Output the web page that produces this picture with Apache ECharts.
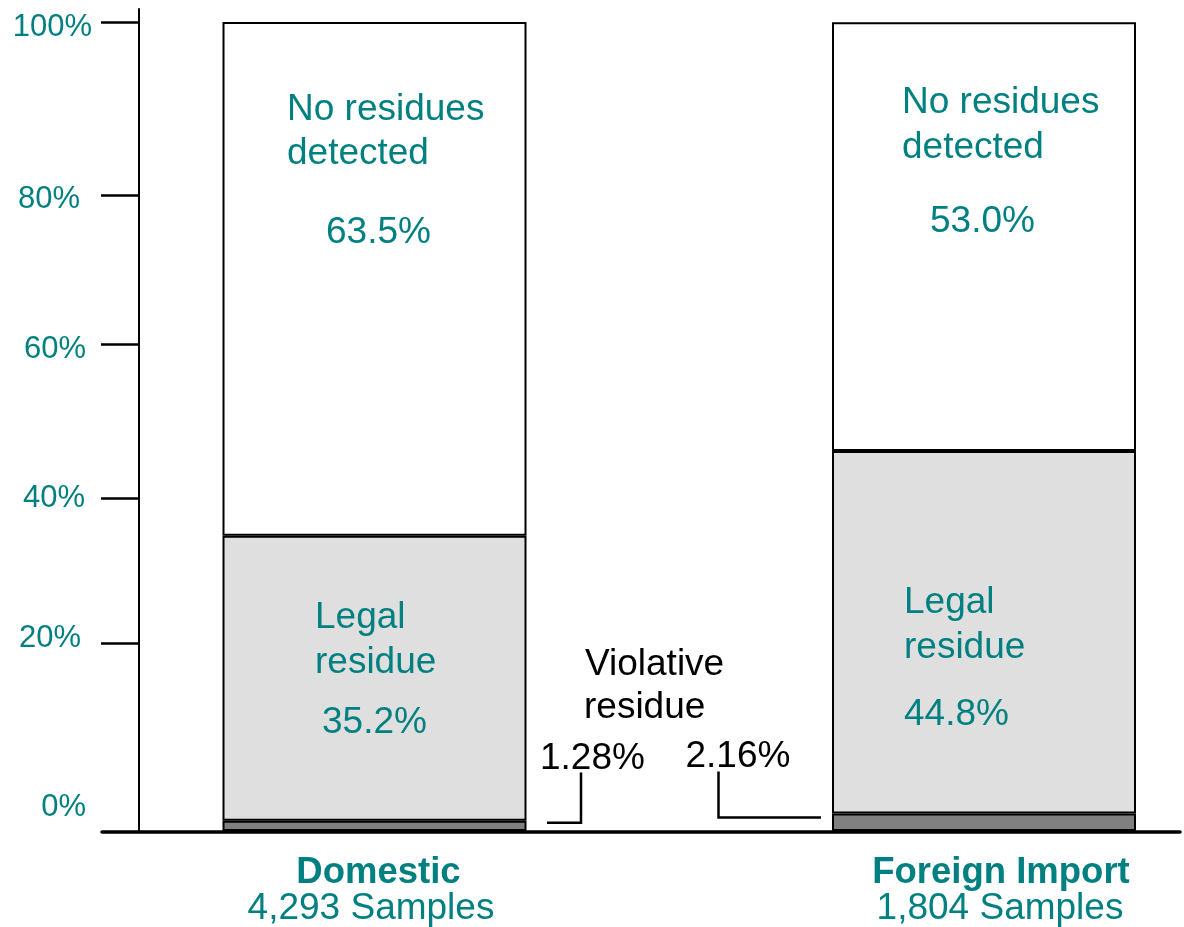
<!DOCTYPE html>
<html>
<head>
<meta charset="utf-8">
<script src="https://cdn.jsdelivr.net/npm/echarts@6/dist/echarts.min.js"></script>
<style>
  html, body { margin: 0; padding: 0; background: #fff; }
  #chart { width: 1184px; height: 927px; }
</style>
</head>
<body>
<div id="chart"></div>
<script>
const categories = ['Domestic', 'Foreign Import'];
const sampleCounts = ['4,293', '1,804'];
const violative = [1.28, 2.16];
const legal = [35.2, 44.8];
const noResidues = [63.5, 53.0];
const tickLabels = ['0%', '20%', '40%', '60%', '80%', '100%'];

const TEAL = '#008080';
const FONT = '"Liberation Sans", Arial, sans-serif';

const chart = echarts.init(document.getElementById('chart'));

// the original ticks and labels were placed by hand, not evenly
const tickAt = [23.2, 41.2, 60.2, 78.6, 100];
const labelAt = [3.0, 23.9, 41.2, 59.5, 78.1, 99.3];
const labelPad = [6, 11, 7, 6, 12, 0];

function nearestLabel(v) {
  let best = 0;
  labelAt.forEach((p, i) => {
    if (Math.abs(p - v) < Math.abs(labelAt[best] - v)) best = i;
  });
  return best;
}

const tickRich = {};
labelPad.forEach((p, i) => {
  tickRich['p' + i] = { color: TEAL, fontFamily: FONT, fontSize: 31, padding: [0, p, 0, 0] };
});

const barStyle = (color) => ({ color: color, borderColor: '#000', borderWidth: 2 });

const catText = (size, bold, pad) => ({
  color: TEAL, fontFamily: FONT, fontSize: size, fontWeight: bold ? 'bold' : 'normal',
  lineHeight: 36, padding: pad
});

const option = {
  animation: false,
  grid: [
    { left: 374.5, right: 200, top: 9, bottom: 95.5 },
    { left: 102, right: 4, top: 9, bottom: 95.5 }
  ],
  xAxis: [
    {
      type: 'category',
      gridIndex: 0,
      boundaryGap: false,
      data: categories,
      axisLine: { show: false },
      axisTick: { show: false },
      axisLabel: {
        interval: 0,
        margin: 23.5,
        formatter: (v, i) => i === 0
          ? `{b|${v}}\n{s|${sampleCounts[i]} Samples}`
          : `{bf|${v}}\n{sf|${sampleCounts[i]} Samples}`,
        rich: {
          b: catText(36.5, true, [0, 0, 0, 8]),
          s: catText(37, false, [0, 7, 0, 0]),
          bf: catText(36.5, true, [0, 0, 0, 34]),
          sf: catText(37, false, [0, 0, 0, 32])
        }
      }
    },
    {
      type: 'value',
      gridIndex: 1,
      min: 0,
      max: 1,
      z: 5,
      axisLine: { show: true, lineStyle: { color: '#000', width: 3.5 } },
      axisTick: { show: false },
      axisLabel: { show: false },
      splitLine: { show: false }
    }
  ],
  yAxis: [
    { type: 'value', gridIndex: 0, min: 0, max: 101.6, show: false },
    {
      type: 'value',
      gridIndex: 1,
      min: 0,
      max: 101.6,
      offset: -37,
      z: 5,
      axisLine: { show: true, lineStyle: { color: '#000', width: 2 } },
      axisTick: { show: true, length: 38, lineStyle: { color: '#000', width: 2.5 }, customValues: tickAt },
      axisLabel: {
        customValues: labelAt,
        formatter: (v) => {
          const i = nearestLabel(v);
          return `{p${i}|${tickLabels[i]}}`;
        },
        rich: tickRich,
        margin: 47
      },
      splitLine: { show: false }
    }
  ],
  series: [
    { name: 'Violative residue', type: 'bar', stack: 'all', barWidth: 304, clip: false, data: violative, itemStyle: barStyle('#808080') },
    { name: 'Legal residue', type: 'bar', stack: 'all', barWidth: 304, clip: false, data: legal, itemStyle: barStyle('#dfdfdf') },
    { name: 'No residues detected', type: 'bar', stack: 'all', barWidth: 304, clip: false, data: noResidues, itemStyle: barStyle('#ffffff') }
  ]
};

chart.setOption(option);

function txt(text, x, y, color) {
  return {
    type: 'text', x: x, y: y + 2.5, z: 10,
    style: { text: text, fill: color || TEAL, fontFamily: FONT, fontSize: 37, align: 'left', verticalAlign: 'middle' }
  };
}

// anchors for the violative leader lines, taken from the bar tops
const domTop = chart.convertToPixel({ xAxisIndex: 0, yAxisIndex: 0 }, [0, violative[0]]);
const forTop = chart.convertToPixel({ xAxisIndex: 0, yAxisIndex: 0 }, [1, violative[1]]);

chart.setOption({
  graphic: [
    txt('No residues', 287, 107),
    txt('detected', 287, 151.5),
    txt(noResidues[0].toFixed(1) + '%', 326, 230.5),
    txt('Legal', 315, 615.5),
    txt('residue', 315, 660),
    txt(legal[0].toFixed(1) + '%', 322, 720),

    txt('No residues', 902, 100.5),
    txt('detected', 902, 145.5),
    txt(noResidues[1].toFixed(1) + '%', 930, 219),
    txt('Legal', 904, 600.5),
    txt('residue', 904, 645.5),
    txt(legal[1].toFixed(1) + '%', 904, 712),

    txt('Violative', 585, 662, '#000'),
    txt('residue', 584, 705.5, '#000'),
    txt(violative[0].toFixed(2) + '%', 540, 756.5, '#000'),
    txt(violative[1].toFixed(2) + '%', 685.5, 754, '#000'),

    {
      type: 'polyline', z: 10,
      shape: { points: [[547, domTop[1] + 2], [581, domTop[1] + 2], [581, 772.5]] },
      style: { stroke: '#000', lineWidth: 2.5, fill: null }
    },
    {
      type: 'polyline', z: 10,
      shape: { points: [[821, forTop[1] + 4], [718.5, forTop[1] + 4], [718.5, 771.5]] },
      style: { stroke: '#000', lineWidth: 2.5, fill: null }
    }
  ]
});
</script>
</body>
</html>
